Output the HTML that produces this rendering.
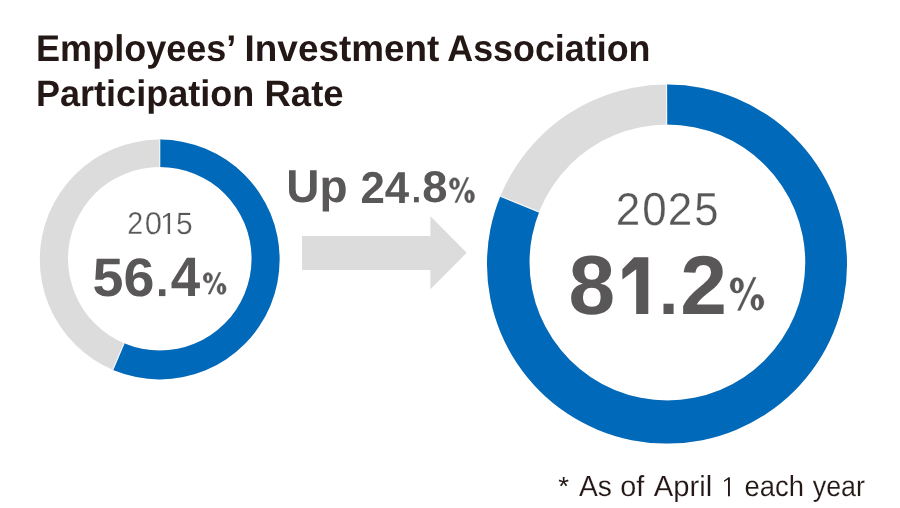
<!DOCTYPE html>
<html><head><meta charset="utf-8">
<style>
html,body{margin:0;padding:0;background:#fff;width:900px;height:508px;overflow:hidden;}
svg{display:block;will-change:transform;}
text{text-rendering:geometricPrecision;font-family:"Liberation Sans",sans-serif;}
</style></head>
<body>
<svg width="900" height="508" viewBox="0 0 900 508">
  <rect width="900" height="508" fill="#fff"/>
  <clipPath id="rings"><path fill-rule="evenodd" clip-rule="evenodd" d="M39.80,259.50 a119.9,119.9 0 1 0 239.80,0 a119.9,119.9 0 1 0 -239.80,0Z M68.00,258.70 a91.8,91.8 0 1 0 183.60,0 a91.8,91.8 0 1 0 -183.60,0Z"/></clipPath>
  <clipPath id="cbs"><polygon points="159.70,259.50 159.70,-140.50 189.20,-139.41 218.55,-136.15 247.57,-130.73 276.11,-123.18 304.02,-113.56 331.15,-101.89 357.34,-88.26 382.45,-72.74 406.35,-55.40 428.91,-36.35 449.99,-15.69 469.50,6.47 487.32,30.01 503.36,54.80 517.52,80.71 529.73,107.59 539.93,135.30 548.05,163.68 554.06,192.59 557.92,221.86 559.62,251.33 559.13,280.85 556.47,310.26 551.64,339.38 544.68,368.08 535.62,396.18 524.52,423.53 511.43,450.00 496.42,475.42 479.57,499.67 460.99,522.61 440.76,544.11 419.00,564.07 395.83,582.37 371.37,598.90 345.76,613.59 319.14,626.35 291.64,637.11 263.43,645.82 234.65,652.41 205.47,656.87 176.03,659.17 146.51,659.28 117.06,657.22 87.84,652.99 59.01,646.62 30.73,638.14 3.15,627.59"/></clipPath>
  <path fill="#dcdcdc" fill-rule="evenodd" d="M39.80,259.50 a119.9,119.9 0 1 0 239.80,0 a119.9,119.9 0 1 0 -239.80,0Z M68.00,258.70 a91.8,91.8 0 1 0 183.60,0 a91.8,91.8 0 1 0 -183.60,0Z"/>
  <path fill="#0069b9" fill-rule="evenodd" clip-path="url(#cbs)" d="M39.80,259.50 a119.9,119.9 0 1 0 239.80,0 a119.9,119.9 0 1 0 -239.80,0Z M68.00,258.70 a91.8,91.8 0 1 0 183.60,0 a91.8,91.8 0 1 0 -183.60,0Z"/>
  <path stroke="#f4f8fc" stroke-width="1.2" fill="none" d="M159.70,259.50 L159.70,-140.50 M159.70,259.50 L3.15,627.59" clip-path="url(#rings)"/>
  <clipPath id="ringb"><path fill-rule="evenodd" clip-rule="evenodd" d="M487.00,264.10 a180.0,179.4 0 1 0 360.00,0 a180.0,179.4 0 1 0 -360.00,0Z M529.50,262.50 a137.9,137.9 0 1 0 275.80,0 a137.9,137.9 0 1 0 -275.80,0Z"/></clipPath>
  <clipPath id="cbb"><polygon points="667.00,264.10 667.00,-135.90 709.41,-133.65 751.34,-126.91 792.32,-115.76 831.89,-100.33 869.60,-80.80 905.03,-57.37 937.77,-30.32 967.46,0.05 993.76,33.39 1016.38,69.34 1035.06,107.48 1049.59,147.39 1059.81,188.61 1065.60,230.68 1066.90,273.13 1063.69,315.48 1056.00,357.25 1043.93,397.97 1027.62,437.18 1007.23,474.44 983.01,509.32 955.23,541.45 924.20,570.44 890.27,595.99 853.82,617.79 815.27,635.60 775.05,649.23 733.60,658.52 691.41,663.35 648.94,663.69 606.68,659.53 565.09,650.90 524.66,637.92 485.82,620.72 449.03,599.50 414.70,574.50 383.21,546.00 354.93,514.32 330.16,479.82 309.18,442.89 292.24,403.95 279.53,363.42 271.18,321.78 267.30,279.49 267.92,237.02 273.04,194.86 282.60,153.48 296.49,113.35"/></clipPath>
  <path fill="#dcdcdc" fill-rule="evenodd" d="M487.00,264.10 a180.0,179.4 0 1 0 360.00,0 a180.0,179.4 0 1 0 -360.00,0Z M529.50,262.50 a137.9,137.9 0 1 0 275.80,0 a137.9,137.9 0 1 0 -275.80,0Z"/>
  <path fill="#0069b9" fill-rule="evenodd" clip-path="url(#cbb)" d="M487.00,264.10 a180.0,179.4 0 1 0 360.00,0 a180.0,179.4 0 1 0 -360.00,0Z M529.50,262.50 a137.9,137.9 0 1 0 275.80,0 a137.9,137.9 0 1 0 -275.80,0Z"/>
  <path stroke="#f4f8fc" stroke-width="1.2" fill="none" d="M667.00,264.10 L665.95,-135.90 M667.00,264.10 L296.49,113.35" clip-path="url(#ringb)"/>
  <polygon fill="#dcdcdc" points="302,236 430.4,236 430.4,216.3 466.7,252.8 430.4,289.3 430.4,270 302,270"/>
  <text x="36.06" y="61" font-size="37.14" font-weight="bold" fill="#231815" textLength="200.32" lengthAdjust="spacingAndGlyphs">Employees’</text>
  <text x="244.6" y="61" font-size="37.14" font-weight="bold" fill="#231815" textLength="194.74" lengthAdjust="spacingAndGlyphs">Investment</text>
  <text x="447.28" y="61" font-size="37.14" font-weight="bold" fill="#231815" textLength="203.17" lengthAdjust="spacingAndGlyphs">Association</text>
  <text x="35.96" y="106" font-size="36.88" font-weight="bold" fill="#231815" textLength="218.38" lengthAdjust="spacingAndGlyphs">Participation</text>
  <text x="264.53" y="106" font-size="36.88" font-weight="bold" fill="#231815" textLength="79.11" lengthAdjust="spacingAndGlyphs">Rate</text>
  <text x="127.32" y="234" font-size="31.68" fill="#595757" textLength="15.96" lengthAdjust="spacingAndGlyphs" stroke="#fff" stroke-width="0.3">2</text>
  <text x="144.72" y="234" font-size="31.46" fill="#595757" textLength="17.28" lengthAdjust="spacingAndGlyphs" stroke="#fff" stroke-width="0.3">0</text>
  <text x="176.05" y="234" font-size="30.91" fill="#595757" textLength="16.71" lengthAdjust="spacingAndGlyphs" stroke="#fff" stroke-width="0.3">5</text>
  <text x="615.84" y="225" font-size="46.0" fill="#595757" textLength="24.52" lengthAdjust="spacingAndGlyphs" stroke="#fff" stroke-width="0.3">2</text>
  <text x="642.21" y="225" font-size="46.37" fill="#595757" textLength="24.43" lengthAdjust="spacingAndGlyphs" stroke="#fff" stroke-width="0.3">0</text>
  <text x="667.84" y="225" font-size="46.0" fill="#595757" textLength="24.52" lengthAdjust="spacingAndGlyphs" stroke="#fff" stroke-width="0.3">2</text>
  <text x="694.31" y="225" font-size="46.54" fill="#595757" textLength="24.26" lengthAdjust="spacingAndGlyphs" stroke="#fff" stroke-width="0.3">5</text>
  <text x="92.51" y="296" font-size="54.14" font-weight="bold" fill="#595757" textLength="61.95" lengthAdjust="spacingAndGlyphs">56</text>
  <text x="170.74" y="296" font-size="55.79" font-weight="bold" fill="#595757" textLength="29.44" lengthAdjust="spacingAndGlyphs">4</text>
  <text x="286.28" y="202" font-size="46.1" font-weight="bold" fill="#595757" textLength="61.28" lengthAdjust="spacingAndGlyphs">Up</text>
  <text x="360.39" y="203" font-size="44.61" font-weight="bold" fill="#595757" textLength="48.73" lengthAdjust="spacingAndGlyphs">24</text>
  <text x="422.32" y="202" font-size="44.32" font-weight="bold" fill="#595757" textLength="25.21" lengthAdjust="spacingAndGlyphs">8</text>
  <text x="568.47" y="314" font-size="83.84" font-weight="bold" fill="#595757" textLength="46.62" lengthAdjust="spacingAndGlyphs">8</text>
  <text x="680.38" y="314" font-size="83.37" font-weight="bold" fill="#595757" textLength="46.74" lengthAdjust="spacingAndGlyphs">2</text>
  <text x="558.17" y="495" font-size="26.02" fill="#231815" textLength="10.79" lengthAdjust="spacingAndGlyphs">*</text>
  <text x="578.91" y="496" font-size="29.01" fill="#231815" textLength="32.89" lengthAdjust="spacingAndGlyphs" stroke="#fff" stroke-width="0.15">As</text>
  <text x="620.34" y="496" font-size="29.01" fill="#231815" textLength="24.03" lengthAdjust="spacingAndGlyphs" stroke="#fff" stroke-width="0.15">of</text>
  <text x="653.85" y="496" font-size="29.01" fill="#231815" textLength="58.33" lengthAdjust="spacingAndGlyphs" stroke="#fff" stroke-width="0.15">April</text>
  <text x="744.42" y="496" font-size="29.01" fill="#231815" textLength="59.48" lengthAdjust="spacingAndGlyphs" stroke="#fff" stroke-width="0.15">each</text>
  <text x="812.73" y="496" font-size="29.01" fill="#231815" textLength="52.21" lengthAdjust="spacingAndGlyphs" stroke="#fff" stroke-width="0.15">year</text>
  <polygon fill="#595757" points="163.0,216.4 168.2,213.0 170.1,213.0 170.1,234.0 167.7,234.0 167.7,215.6 163.0,218.3"/>
  <polygon fill="#231815" points="724.0,480.6 728.6,477.2 729.9,477.2 729.9,496.3 728.0,496.3 728.0,479.6 724.0,482.0"/>
  <path fill="#595757" fill-rule="evenodd" stroke="#595757" stroke-width="0.2" stroke-linejoin="round" d="M730.00,285.35 a6.86,7.85 0 1 0 13.72,0 a6.86,7.85 0 1 0 -13.72,0Z M734.77,285.70 a2.34,4.92 0 1 0 4.67,0 a2.34,4.92 0 1 0 -4.67,0Z M750.68,302.35 a6.66,8.05 0 1 0 13.32,0 a6.66,8.05 0 1 0 -13.32,0Z M754.95,302.90 a2.14,4.92 0 1 0 4.27,0 a2.14,4.92 0 1 0 -4.27,0Z"/>
  <polygon fill="#595757" stroke="#595757" stroke-width="0.2" stroke-linejoin="round" points="753.26,277.30 756.25,277.30 740.34,310.40 737.36,310.40"/>
  <path fill="#595757" fill-rule="evenodd" stroke="#595757" stroke-width="0.6" stroke-linejoin="round" d="M203.30,277.75 a4.58,5.12 0 1 0 9.16,0 a4.58,5.12 0 1 0 -9.16,0Z M206.49,277.98 a1.56,3.21 0 1 0 3.12,0 a1.56,3.21 0 1 0 -3.12,0Z M217.11,288.85 a4.45,5.25 0 1 0 8.89,0 a4.45,5.25 0 1 0 -8.89,0Z M219.96,289.20 a1.43,3.21 0 1 0 2.85,0 a1.43,3.21 0 1 0 -2.85,0Z"/>
  <polygon fill="#595757" stroke="#595757" stroke-width="0.6" stroke-linejoin="round" points="218.83,272.50 220.82,272.50 210.20,294.10 208.21,294.10"/>
  <path fill="#595757" fill-rule="evenodd" stroke="#595757" stroke-width="0.45" stroke-linejoin="round" d="M449.42,183.59 a5.05,5.92 0 1 0 10.11,0 a5.05,5.92 0 1 0 -10.11,0Z M452.94,183.86 a1.72,3.71 0 1 0 3.44,0 a1.72,3.71 0 1 0 -3.44,0Z M464.66,196.41 a4.91,6.07 0 1 0 9.81,0 a4.91,6.07 0 1 0 -9.81,0Z M467.81,196.82 a1.57,3.71 0 1 0 3.15,0 a1.57,3.71 0 1 0 -3.15,0Z"/>
  <polygon fill="#595757" stroke="#595757" stroke-width="0.45" stroke-linejoin="round" points="466.56,177.53 468.76,177.53 457.04,202.47 454.85,202.47"/>
  <polygon fill="#595757" points="634.10,257.20 648.30,257.20 648.30,314.00 636.20,314.00 636.20,269.20 622.40,279.60 622.40,269.20"/>
  <rect fill="#595757" x="663.5" y="303.7" width="10.10" height="10.30"/>
  <rect fill="#595757" x="159.0" y="289.25" width="6.40" height="6.85"/>
  <rect fill="#595757" x="414.0" y="197.0" width="4.80" height="5.30"/>
</svg>
</body></html>
